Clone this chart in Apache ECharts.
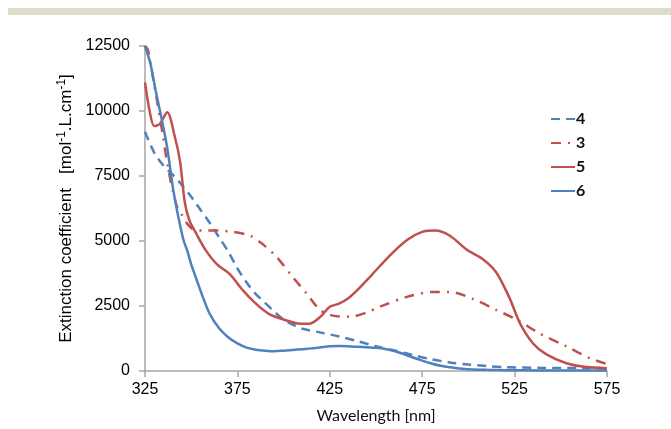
<!DOCTYPE html>
<html>
<head>
<meta charset="utf-8">
<script src="https://cdn.jsdelivr.net/npm/echarts@6/dist/echarts.min.js"></script>
<style>
html,body{margin:0;padding:0;background:#fff;}
#c{width:671px;height:429px;}
</style>
</head>
<body>
<div id="c"></div>
<script>
// Tick labels
var xTicks = [325, 375, 425, 475, 525, 575];
var yTicks = [0, 2500, 5000, 7500, 10000, 12500];

// Series names
var names = ['4', '3', '5', '6'];

// Series 4 (blue dashed)
var wl4 = [325,330,335,340,345,350,355,360,365,370,375,380,385,390,395,400,405,410,420,430,440,450,460,470,480,490,500,510,520,540,560,575];
var v4  = [9200,8400,7900,7550,7150,6700,6200,5700,5150,4600,3950,3400,2960,2620,2280,1980,1780,1630,1480,1330,1150,950,790,610,450,330,250,190,150,120,110,100];

// Series 3 (red dash-dot)
var wl3 = [325,326.6,329.5,332,334.7,337.5,342,345,348,352,358,364,372.6,382,389,396.4,405,412.7,419.7,426.7,436,445,452,466.8,481,490,502.5,515,526,538.7,553,565.8,575];
var v3  = [12500,12350,11200,10200,9050,7800,6380,6000,5650,5420,5400,5400,5350,5200,4860,4370,3610,2960,2350,2130,2090,2250,2470,2850,3040,3040,2770,2350,1980,1440,950,490,270];

// Series 5 (red solid)
var wl5 = [325,327.5,330,333,337,341,344,346.5,349,353,358,364,371,378,385,392,400,409,414,420,425,430,435,440,448,458,467,475,482,490,499,508,515,522,528,535,542,553,564,575];
var v5  = [11100,10000,9420,9500,9950,9050,8050,6500,5800,5250,4630,4100,3720,3100,2590,2200,1980,1820,1820,2090,2470,2590,2800,3120,3720,4480,5050,5350,5400,5200,4670,4290,3800,2850,1820,1060,650,300,150,110];

// Series 6 (blue solid)
var wl6 = [325,328,331,334,337,340,342,344,346,348,350,353,356,360,365,370,375,380,385,390,395,400,405,410,415,420,425,430,435,440,445,450,455,460,465,470,475,480,485,490,495,500,510,520,530,545,560,575];
var v6  = [12500,11800,10700,9700,8600,7100,6300,5600,5000,4600,4100,3500,2900,2200,1650,1300,1060,900,820,780,760,780,810,840,870,910,950,960,950,930,910,890,850,770,650,520,400,290,200,140,100,70,45,30,25,20,20,20];

function pairs(xs, ys) { return xs.map(function (x, i) { return [x, ys[i]]; }); }

var BLUE = '#4f81bd', RED = '#c0504d';

var chart = echarts.init(document.getElementById('c'), null, {renderer: 'canvas'});
function mkSeries(name, xs, ys, color, type) {
  return {
    name: name, type: 'line', data: pairs(xs, ys), smooth: 0.3,
    symbol: 'none', showSymbol: false,
    lineStyle: {color: color, width: 2.5, type: type},
    itemStyle: {color: color},
    z: 2
  };
}
chart.setOption({
  animation: false,
  backgroundColor: '#fff',
  graphic: [{type: 'rect', shape: {x: 8, y: 8, width: 663, height: 7}, style: {fill: '#e0dccc'}, silent: true}],
  grid: {left: 145, right: 64, top: 46, bottom: 54},
  legend: {
    orient: 'vertical', left: 550, top: 111, padding: 0, itemWidth: 24, itemHeight: 14, itemGap: 8,
    data: names,
    itemStyle: {opacity: 0},
    textStyle: {fontFamily: 'Lato', fontSize: 16, fontWeight: 'bold', color: '#111', padding: [0, 0, 0, -4]}
  },
  xAxis: {
    type: 'value', min: xTicks[0], max: xTicks[xTicks.length - 1], interval: 50,
    name: 'Wavelength [nm]', nameLocation: 'middle', nameGap: 37,
    nameTextStyle: {fontFamily: 'Lato', fontSize: 16, color: '#111'},
    axisLine: {show: true, lineStyle: {color: '#a6a6a6', width: 1.5}},
    axisTick: {show: true, length: 6, lineStyle: {color: '#a6a6a6', width: 1.5}},
    axisLabel: {fontFamily: 'Liberation Sans', fontSize: 16, color: '#000', margin: 11,
      formatter: function (v) { return xTicks.indexOf(v) >= 0 ? String(v) : ''; }},
    splitLine: {show: false}
  },
  yAxis: {
    type: 'value', min: yTicks[0], max: yTicks[yTicks.length - 1], interval: 2500,
    name: '{a|Extinction coefficient   [mol}{s|-1}{a|.L.cm}{s|-1}{a|]}',
    nameLocation: 'middle', nameGap: 64, nameRotate: 90,
    nameTextStyle: {
      rich: {
        a: {fontFamily: 'Liberation Sans', fontSize: 17, color: '#000', verticalAlign: 'bottom', lineHeight: 19},
        s: {fontFamily: 'Liberation Sans', fontSize: 12, color: '#000', verticalAlign: 'top', lineHeight: 19}
      }
    },
    axisLine: {show: true, lineStyle: {color: '#a6a6a6', width: 1.5}},
    axisTick: {show: true, length: 6, lineStyle: {color: '#a6a6a6', width: 1.5}},
    axisLabel: {fontFamily: 'Liberation Sans', fontSize: 16, color: '#000', margin: 15,
      formatter: function (v) { return String(v); }},
    splitLine: {show: false}
  },
  series: [
    mkSeries('4', wl4, v4, BLUE, [9, 6]),
    mkSeries('3', wl3, v3, RED, [10, 7, 2, 7]),
    mkSeries('5', wl5, v5, RED, 'solid'),
    mkSeries('6', wl6, v6, BLUE, 'solid')
  ]
});
</script>
</body>
</html>
